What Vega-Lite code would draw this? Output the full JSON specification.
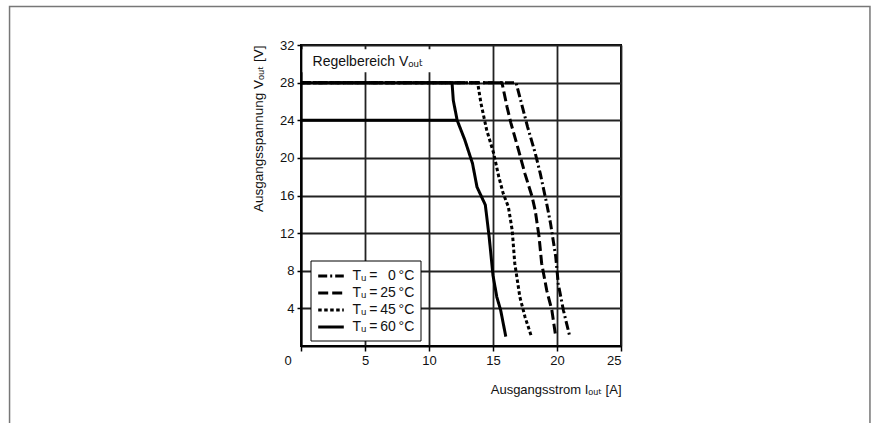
{
  "$schema": "https://vega.github.io/schema/vega-lite/v6.json",
  "width": 320,
  "height": 301,
  "autosize": {"type": "none"},
  "padding": {"left": 301, "top": 45, "right": 250, "bottom": 77},
  "background": "white",
  "config": {
    "font": "Liberation Sans",
    "view": {"stroke": "black", "strokeWidth": 2},
    "axis": {
      "domainColor": "black", "domainWidth": 2,
      "gridColor": "#222", "gridWidth": 1.8, "gridOpacity": 1,
      "tickColor": "black", "tickWidth": 1.5,
      "labelColor": "#111", "labelFont": "Liberation Sans", "labelFontSize": 13,
      "titleColor": "#111", "titleFont": "Liberation Sans, DejaVu Sans", "titleFontSize": 13, "titleFontWeight": "normal"
    }
  },
  "datasets": {
    "curves": [
      {"T": "Tᵤ\u2009=\u2009\u20070\u2009°C", "p": 0, "x": 0, "y": 28},
      {"T": "Tᵤ\u2009=\u2009\u20070\u2009°C", "p": 1, "x": 16.8, "y": 28},
      {"T": "Tᵤ\u2009=\u2009\u20070\u2009°C", "p": 2, "x": 17.3, "y": 25.4},
      {"T": "Tᵤ\u2009=\u2009\u20070\u2009°C", "p": 3, "x": 17.7, "y": 23.3},
      {"T": "Tᵤ\u2009=\u2009\u20070\u2009°C", "p": 4, "x": 18.3, "y": 20.5},
      {"T": "Tᵤ\u2009=\u2009\u20070\u2009°C", "p": 5, "x": 18.7, "y": 18.3},
      {"T": "Tᵤ\u2009=\u2009\u20070\u2009°C", "p": 6, "x": 19.2, "y": 15.1},
      {"T": "Tᵤ\u2009=\u2009\u20070\u2009°C", "p": 7, "x": 19.5, "y": 13.0},
      {"T": "Tᵤ\u2009=\u2009\u20070\u2009°C", "p": 8, "x": 19.9, "y": 9.5},
      {"T": "Tᵤ\u2009=\u2009\u20070\u2009°C", "p": 9, "x": 20.1, "y": 6.6},
      {"T": "Tᵤ\u2009=\u2009\u20070\u2009°C", "p": 10, "x": 20.5, "y": 3.8},
      {"T": "Tᵤ\u2009=\u2009\u20070\u2009°C", "p": 11, "x": 21.0, "y": 1.0},
      {"T": "Tᵤ\u2009=\u200925\u2009°C", "p": 0, "x": 0, "y": 28},
      {"T": "Tᵤ\u2009=\u200925\u2009°C", "p": 1, "x": 15.7, "y": 28},
      {"T": "Tᵤ\u2009=\u200925\u2009°C", "p": 2, "x": 16.1, "y": 25.4},
      {"T": "Tᵤ\u2009=\u200925\u2009°C", "p": 3, "x": 16.4, "y": 23.7},
      {"T": "Tᵤ\u2009=\u200925\u2009°C", "p": 4, "x": 17.0, "y": 20.8},
      {"T": "Tᵤ\u2009=\u200925\u2009°C", "p": 5, "x": 17.5, "y": 18.3},
      {"T": "Tᵤ\u2009=\u200925\u2009°C", "p": 6, "x": 18.05, "y": 15.9},
      {"T": "Tᵤ\u2009=\u200925\u2009°C", "p": 7, "x": 18.3, "y": 14.4},
      {"T": "Tᵤ\u2009=\u200925\u2009°C", "p": 8, "x": 18.6, "y": 11.6},
      {"T": "Tᵤ\u2009=\u200925\u2009°C", "p": 9, "x": 18.8, "y": 8.8},
      {"T": "Tᵤ\u2009=\u200925\u2009°C", "p": 10, "x": 19.2, "y": 5.9},
      {"T": "Tᵤ\u2009=\u200925\u2009°C", "p": 11, "x": 19.6, "y": 3.8},
      {"T": "Tᵤ\u2009=\u200925\u2009°C", "p": 12, "x": 19.9, "y": 1.0},
      {"T": "Tᵤ\u2009=\u200945\u2009°C", "p": 0, "x": 0, "y": 28},
      {"T": "Tᵤ\u2009=\u200945\u2009°C", "p": 1, "x": 13.8, "y": 28},
      {"T": "Tᵤ\u2009=\u200945\u2009°C", "p": 2, "x": 14.06, "y": 25.8},
      {"T": "Tᵤ\u2009=\u200945\u2009°C", "p": 3, "x": 14.5, "y": 23.0},
      {"T": "Tᵤ\u2009=\u200945\u2009°C", "p": 4, "x": 15.05, "y": 20.5},
      {"T": "Tᵤ\u2009=\u200945\u2009°C", "p": 5, "x": 15.45, "y": 18.0},
      {"T": "Tᵤ\u2009=\u200945\u2009°C", "p": 6, "x": 15.8, "y": 16.2},
      {"T": "Tᵤ\u2009=\u200945\u2009°C", "p": 7, "x": 16.2, "y": 14.8},
      {"T": "Tᵤ\u2009=\u200945\u2009°C", "p": 8, "x": 16.5, "y": 12.3},
      {"T": "Tᵤ\u2009=\u200945\u2009°C", "p": 9, "x": 16.7, "y": 8.8},
      {"T": "Tᵤ\u2009=\u200945\u2009°C", "p": 10, "x": 17.1, "y": 5.2},
      {"T": "Tᵤ\u2009=\u200945\u2009°C", "p": 11, "x": 17.5, "y": 3.1},
      {"T": "Tᵤ\u2009=\u200945\u2009°C", "p": 12, "x": 18.0, "y": 1.0},
      {"T": "Tᵤ\u2009=\u200960\u2009°C", "p": 0, "x": 0, "y": 28},
      {"T": "Tᵤ\u2009=\u200960\u2009°C", "p": 1, "x": 11.8, "y": 28},
      {"T": "Tᵤ\u2009=\u200960\u2009°C", "p": 2, "x": 11.9, "y": 26.1},
      {"T": "Tᵤ\u2009=\u200960\u2009°C", "p": 3, "x": 12.2, "y": 24.0},
      {"T": "Tᵤ\u2009=\u200960\u2009°C", "p": 4, "x": 12.8, "y": 21.9},
      {"T": "Tᵤ\u2009=\u200960\u2009°C", "p": 5, "x": 13.4, "y": 19.4},
      {"T": "Tᵤ\u2009=\u200960\u2009°C", "p": 6, "x": 13.75, "y": 16.9},
      {"T": "Tᵤ\u2009=\u200960\u2009°C", "p": 7, "x": 14.4, "y": 15.0},
      {"T": "Tᵤ\u2009=\u200960\u2009°C", "p": 8, "x": 14.7, "y": 11.6},
      {"T": "Tᵤ\u2009=\u200960\u2009°C", "p": 9, "x": 15.0, "y": 7.5},
      {"T": "Tᵤ\u2009=\u200960\u2009°C", "p": 10, "x": 15.3, "y": 5.2},
      {"T": "Tᵤ\u2009=\u200960\u2009°C", "p": 11, "x": 15.6, "y": 3.8},
      {"T": "Tᵤ\u2009=\u200960\u2009°C", "p": 12, "x": 16.0, "y": 1.0}
    ],
    "line24": [
      {"x": 0, "y": 24},
      {"x": 12.2, "y": 24}
    ],
    "note": [
      {"label": "Regelbereich Vₒᵤₜ", "x": 0.9, "y": 30.2}
    ]
  },
  "encoding": {
    "x": {
      "field": "x", "type": "quantitative",
      "scale": {"domain": [0, 25], "nice": false, "zero": false},
      "axis": {
        "values": [0, 5, 10, 15, 20, 25],
        "tickSize": 5,
        "labelPadding": 3,
        "labelOffset": {"condition": {"test": "datum.value == 0", "value": -17}, "value": 0},
        "title": "Ausgangsstrom Iₒᵤₜ [A]",
        "titleAnchor": "end",
        "titlePadding": 16
      }
    },
    "y": {
      "field": "y", "type": "quantitative",
      "scale": {"domain": [0, 32], "nice": false, "zero": false},
      "axis": {
        "values": [4, 8, 12, 16, 20, 24, 28, 32],
        "tickSize": 4,
        "labelPadding": 3,
        "title": "Ausgangsspannung Vₒᵤₜ [V]",
        "titleAnchor": "end",
        "titleFontSize": 13.5,
        "titlePadding": 14
      }
    }
  },
  "layer": [
    {
      "data": {"values": [{"fx": -22.77, "fx2": 44.45, "fy": -9, "fy2": 36.09}]},
      "mark": {"type": "rect", "fill": "transparent", "stroke": "#777", "strokeWidth": 1.5, "clip": false},
      "encoding": {
        "x": {"field": "fx", "type": "quantitative"},
        "x2": {"field": "fx2"},
        "y": {"field": "fy", "type": "quantitative"},
        "y2": {"field": "fy2"}
      }
    },
    {
      "data": {"values": [{"bx": 0.12, "bx2": 10.4, "by": 29.1, "by2": 31.55}]},
      "mark": {"type": "rect", "fill": "white", "strokeWidth": 0},
      "encoding": {
        "x": {"field": "bx", "type": "quantitative"},
        "x2": {"field": "bx2"},
        "y": {"field": "by", "type": "quantitative"},
        "y2": {"field": "by2"}
      }
    },
    {
      "data": {"name": "note"},
      "mark": {"type": "text", "align": "left", "baseline": "middle", "fontSize": 14, "font": "Liberation Sans, DejaVu Sans", "color": "#111"},
      "encoding": {"text": {"field": "label"}}
    },
    {
      "data": {"name": "line24"},
      "mark": {"type": "line", "color": "black", "strokeWidth": 3},
      "encoding": {}
    },
    {
      "data": {"name": "curves"},
      "mark": {"type": "line", "color": "black", "strokeWidth": 3},
      "encoding": {
        "order": {"field": "p", "type": "quantitative"},
        "strokeDash": {
          "field": "T", "type": "nominal",
          "scale": {
            "domain": ["Tᵤ\u2009=\u2009\u20070\u2009°C", "Tᵤ\u2009=\u200925\u2009°C", "Tᵤ\u2009=\u200945\u2009°C", "Tᵤ\u2009=\u200960\u2009°C"],
            "range": [[9, 3, 2, 3], [10, 4], [3.5, 2.5], [1, 0]]
          },
          "legend": {
            "orient": "none", "legendX": 9.5, "legendY": 215.5,
            "title": null,
            "strokeColor": "black", "fillColor": "white",
            "padding": 6,
            "symbolType": "M-1.6,0H1.6", "symbolSize": 256, "symbolOffset": 5,
            "symbolStrokeWidth": 3, "symbolStrokeColor": "black", "symbolFillColor": "transparent",
            "labelFont": "Liberation Sans, DejaVu Sans", "labelFontSize": 14, "labelColor": "#111",
            "rowPadding": -2, "labelOffset": 12
          }
        }
      }
    }
  ]
}
